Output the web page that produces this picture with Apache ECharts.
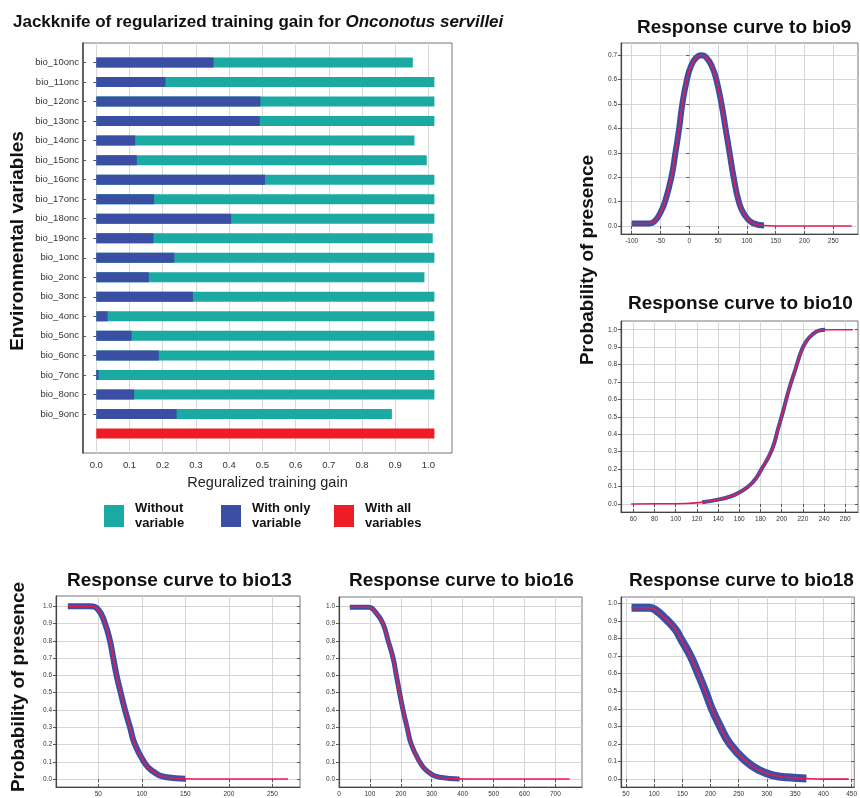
<!DOCTYPE html>
<html>
<head>
<meta charset="utf-8">
<title>Jackknife and response curves - Onconotus servillei</title>
<script src="https://cdn.jsdelivr.net/npm/echarts@6.0.0/dist/echarts.min.js"></script>
<style>
  html, body { margin: 0; padding: 0; background: #fff; }
  #chart { width: 860px; height: 798px; }
</style>
</head>
<body>
<div id="chart"></div>
<script>
// jackknife, variables from top to bottom
var jkVariables = ['bio_10onc', 'bio_11onc', 'bio_12onc', 'bio_13onc', 'bio_14onc', 'bio_15onc', 'bio_16onc',
  'bio_17onc', 'bio_18onc', 'bio_19onc', 'bio_1onc', 'bio_2onc', 'bio_3onc', 'bio_4onc', 'bio_5onc',
  'bio_6onc', 'bio_7onc', 'bio_8onc', 'bio_9onc']
var withoutVariable = [0.953, 1.018, 1.018, 1.018, 0.958, 0.995, 1.018, 1.018, 1.018, 1.013, 1.018,
  0.988, 1.018, 1.018, 1.018, 1.018, 1.018, 1.018, 0.890]
var withOnlyVariable = [0.353, 0.208, 0.494, 0.492, 0.117, 0.122, 0.508, 0.174, 0.406, 0.172, 0.235,
  0.158, 0.291, 0.034, 0.106, 0.188, 0.007, 0.114, 0.242]
var withAllVariables = 1.018
var gainTicks = [0, 0.1, 0.2, 0.3, 0.4, 0.5, 0.6, 0.7, 0.8, 0.9, 1.0]

// response curves: [value, probability of presence]
var bio9Curve = [[-100, 0.01], [-70, 0.01], [-60, 0.02], [-50, 0.055], [-42, 0.1], [-31, 0.2], [-24, 0.3],
  [-17.5, 0.4], [-12, 0.5], [-4, 0.6], [3, 0.655], [12, 0.69], [21, 0.70], [30, 0.69], [40, 0.65],
  [47, 0.6], [56, 0.5], [63, 0.4], [70, 0.3], [77, 0.2], [86, 0.1], [95, 0.05], [110, 0.012],
  [130, 0.002], [150, 0], [282, 0]]
var bio10Curve = [[58, 0], [80, 0.001], [109, 0.003], [125, 0.01], [140, 0.025], [150, 0.04], [159, 0.063],
  [172, 0.12], [181, 0.2], [190.7, 0.31], [197, 0.44], [201.7, 0.54], [206.5, 0.65], [212.8, 0.77],
  [219, 0.885], [224, 0.94], [228.5, 0.97], [235, 0.995], [241, 1.0], [267, 1.0]]
var bio13Curve = [[15, 1.0], [40, 1.0], [50, 0.98], [57.7, 0.9], [63.4, 0.8], [67.2, 0.7], [71, 0.6],
  [75.7, 0.5], [80.7, 0.4], [86.4, 0.3], [92.1, 0.2], [102.5, 0.1], [111.3, 0.05], [128.5, 0.01],
  [150, 0.002], [170, 0], [268, 0]]
var bio16Curve = [[35, 0.995], [95, 0.995], [121, 0.96], [142, 0.9], [159, 0.8], [175, 0.7], [185.5, 0.6],
  [196, 0.5], [207, 0.4], [220, 0.3], [234, 0.2], [261, 0.1], [283, 0.05], [326, 0.01], [390, 0.001],
  [430, 0], [746, 0]]
var bio18Curve = [[60, 0.975], [92, 0.975], [103.5, 0.96], [121, 0.91], [138, 0.85], [147, 0.8], [164.5, 0.7],
  [178, 0.6], [190.7, 0.5], [202.3, 0.4], [217, 0.3], [234.3, 0.2], [263.4, 0.1], [286.6, 0.05],
  [312.8, 0.02], [336, 0.01], [370, 0.003], [400, 0], [445, 0]]

var bio9XTicks = [-100, -50, 0, 50, 100, 150, 200, 250]
var bio10XTicks = [60, 80, 100, 120, 140, 160, 180, 200, 220, 240, 260]
var bio13XTicks = [50, 100, 150, 200, 250]
var bio16XTicks = [0, 100, 200, 300, 400, 500, 600, 700]
var bio18XTicks = [50, 100, 150, 200, 250, 300, 350, 400, 450]
var probTicksLow = [0, 0.1, 0.2, 0.3, 0.4, 0.5, 0.6, 0.7]
var probTicks = [0, 0.1, 0.2, 0.3, 0.4, 0.5, 0.6, 0.7, 0.8, 0.9, 1.0]

var boldFont = "'Liberation Sans', Arial, sans-serif"
var tickFont = "'Liberation Sans Narrow', 'Liberation Sans', Arial, sans-serif"
var blueBand = '#3a4fa6'
var redLine = '#e61c50'

var panels = [
  { title: 'Response curve to bio9', titleLeft: 637, titleTop: 18, curve: bio9Curve, xTicks: bio9XTicks, yTicks: probTicksLow,
    grid: { left: 621, top: 43, width: 237, height: 191 }, x: [-118.5, 293], y: [-0.033, 0.75], band: [-100, 130], bandWidth: 6 },
  { title: 'Response curve to bio10', titleLeft: 628, titleTop: 294, curve: bio10Curve, xTicks: bio10XTicks, yTicks: probTicks,
    grid: { left: 621, top: 321, width: 237, height: 191 }, x: [48.4, 272], y: [-0.046, 1.05], band: [125, 241], bandWidth: 4 },
  { title: 'Response curve to bio13', titleLeft: 67, titleTop: 571, curve: bio13Curve, xTicks: bio13XTicks, yTicks: probTicks,
    grid: { left: 56, top: 596, width: 244, height: 192 }, x: [1.4, 281.8], y: [-0.046, 1.059], band: [15, 150], bandWidth: 6 },
  { title: 'Response curve to bio16', titleLeft: 349, titleTop: 571, curve: bio16Curve, xTicks: bio16XTicks, yTicks: probTicks,
    grid: { left: 339, top: 597, width: 243, height: 191 }, x: [0, 786], y: [-0.046, 1.054], band: [35, 390], bandWidth: 5 },
  { title: 'Response curve to bio18', titleLeft: 629, titleTop: 571, curve: bio18Curve, xTicks: bio18XTicks, yTicks: probTicks,
    grid: { left: 621, top: 597, width: 237, height: 191 }, x: [41.3, 454.7], y: [-0.045, 1.036], band: [60, 370], bandWidth: 8 }
]

// category axis padded with empty slots above and below, red bar gets its own row
var jkCategories = ['top'].concat(jkVariables, ['all', 'bottom'])
var tealData = ['-'].concat(withoutVariable, ['-', '-'])
var blueData = ['-'].concat(withOnlyVariable, ['-', '-'])
var redData = jkCategories.map(function (c) { return c === 'all' ? withAllVariables : '-' })
var isVar = function (idx, val) { return String(val).indexOf('bio') === 0 }

var grid = [{ left: 83, top: 43, width: 369, height: 410, show: true, borderColor: '#777', borderWidth: 1, backgroundColor: '#fff' }]
var xAxis = [
  {
    type: 'value', gridIndex: 0, position: 'bottom', min: -0.04, max: 1.071,
    name: 'Reguralized training gain', nameLocation: 'middle', nameGap: 22,
    nameTextStyle: { fontSize: 14.5, color: '#222', fontFamily: boldFont },
    axisLine: { onZero: false, lineStyle: { color: '#444', width: 1.5 } },
    axisTick: { inside: true, length: 4, customValues: gainTicks, lineStyle: { color: '#555' } },
    axisLabel: { customValues: gainTicks, margin: 7, fontSize: 9.5, color: '#333', fontFamily: tickFont,
      formatter: function (v) { return v.toFixed(1) } },
    splitLine: { show: true, lineStyle: { color: '#d8d8d8' } }
  },
  {
    type: 'value', gridIndex: 0, position: 'top', min: -0.04, max: 1.071,
    axisLine: { show: false }, axisLabel: { show: false }, splitLine: { show: false },
    axisTick: { inside: true, length: 4, customValues: gainTicks, lineStyle: { color: '#555' } }
  }
]
var yAxis = [
  {
    type: 'category', gridIndex: 0, position: 'left', inverse: true, boundaryGap: false, data: jkCategories,
    axisLine: { onZero: false, lineStyle: { color: '#444', width: 1.5 } },
    axisTick: { inside: true, length: 3, interval: isVar, lineStyle: { color: '#555' } },
    axisLabel: { interval: isVar, margin: 4, fontSize: 9.5, color: '#333', fontFamily: boldFont },
    splitLine: { show: false }
  },
  {
    type: 'category', gridIndex: 0, position: 'right', inverse: true, boundaryGap: false, data: jkCategories,
    axisLine: { show: false }, axisLabel: { show: false }, splitLine: { show: false },
    axisTick: { inside: true, length: 3, interval: isVar, lineStyle: { color: '#555' } }
  }
]

var series = [
  { name: 'Without variable', type: 'bar', xAxisIndex: 0, yAxisIndex: 0, data: tealData, barWidth: 10, barGap: '-100%',
    itemStyle: { color: '#1ba9a3' } },
  { name: 'With only variable', type: 'bar', xAxisIndex: 0, yAxisIndex: 0, data: blueData, barWidth: 10, barGap: '-100%',
    itemStyle: { color: '#3a4fa3' } },
  { name: 'With all variables', type: 'bar', xAxisIndex: 0, yAxisIndex: 0, data: redData, barWidth: 10, barGap: '-100%',
    itemStyle: { color: '#ee1c25' } }
]

var title = [{
  text: '{n|Jackknife of regularized training gain for }{i|Onconotus servillei}',
  left: 13, top: 14, padding: 0,
  textStyle: {
    rich: {
      n: { fontSize: 17, fontWeight: 'bold', color: '#111', fontFamily: boldFont },
      i: { fontSize: 17, fontWeight: 'bold', fontStyle: 'italic', color: '#111', fontFamily: boldFont }
    }
  }
}]

panels.forEach(function (p, i) {
  var g = i + 1
  grid.push(Object.assign({ show: true, borderColor: '#777', borderWidth: 1, backgroundColor: '#fff' }, p.grid))
  title.push({ text: p.title, left: p.titleLeft, top: p.titleTop, padding: 0,
    textStyle: { fontSize: 19, fontWeight: 'bold', color: '#111', fontFamily: boldFont } })

  xAxis.push({
    type: 'value', gridIndex: g, position: 'bottom', min: p.x[0], max: p.x[1],
    axisLine: { onZero: false, lineStyle: { color: '#444', width: 1.2 } },
    axisTick: { inside: true, length: 3, customValues: p.xTicks, lineStyle: { color: '#555' } },
    axisLabel: { customValues: p.xTicks, margin: 4, fontSize: 6.5, color: '#333', fontFamily: tickFont },
    splitLine: { show: true, lineStyle: { color: '#d6d6d6' } }
  }, {
    type: 'value', gridIndex: g, position: 'top', min: p.x[0], max: p.x[1],
    axisLine: { show: false }, axisLabel: { show: false }, splitLine: { show: false },
    axisTick: { inside: true, length: 3, customValues: p.xTicks, lineStyle: { color: '#555' } }
  })
  yAxis.push({
    type: 'value', gridIndex: g, position: 'left', min: p.y[0], max: p.y[1],
    axisLine: { onZero: false, lineStyle: { color: '#444', width: 1.2 } },
    axisTick: { length: 3, customValues: p.yTicks, lineStyle: { color: '#555' } },
    axisLabel: { customValues: p.yTicks, margin: 4, fontSize: 6.5, color: '#333', fontFamily: tickFont,
      formatter: function (v) { return v.toFixed(1) } },
    splitLine: { show: true, lineStyle: { color: '#d6d6d6' } }
  }, {
    type: 'value', gridIndex: g, position: 'right', min: p.y[0], max: p.y[1],
    axisLine: { show: false }, axisLabel: { show: false }, splitLine: { show: false },
    axisTick: { inside: true, length: 3, customValues: p.yTicks, lineStyle: { color: '#555' } }
  })

  // blue spread band drawn as a thick line, mean response in red on top
  series.push({
    type: 'line', xAxisIndex: 2 * g, yAxisIndex: 2 * g, silent: true, showSymbol: false,
    smooth: 0.5, z: 2,
    data: p.curve.filter(function (d) { return d[0] >= p.band[0] && d[0] <= p.band[1] }),
    lineStyle: { color: blueBand, width: p.bandWidth, cap: 'butt', join: 'round' }
  }, {
    type: 'line', xAxisIndex: 2 * g, yAxisIndex: 2 * g, silent: true, showSymbol: false,
    smooth: 0.5, z: 3,
    data: p.curve,
    lineStyle: { color: redLine, width: 1.6 }
  })
})

var legendBase = {
  orient: 'horizontal', top: 501, padding: 0, icon: 'rect', itemWidth: 20, itemHeight: 22, selectedMode: false,
  formatter: function (name) {
    var i = name.lastIndexOf(' ')
    return name.slice(0, i) + '\n' + name.slice(i + 1)
  },
  textStyle: { fontSize: 13, fontWeight: 'bold', lineHeight: 15, color: '#111', fontFamily: boldFont, padding: [0, 0, 0, 6] }
}
var legend = [
  Object.assign({ left: 104, data: ['Without variable'] }, legendBase),
  Object.assign({ left: 221, data: ['With only variable'] }, legendBase),
  Object.assign({ left: 334, data: ['With all variables'] }, legendBase)
]

var chart = echarts.init(document.getElementById('chart'))
chart.setOption({
  animation: false,
  backgroundColor: '#fff',
  title: title,
  legend: legend,
  grid: grid,
  xAxis: xAxis,
  yAxis: yAxis,
  series: series,
  graphic: [
    { type: 'text', x: 18, y: 241, rotation: Math.PI / 2,
      style: { text: 'Environmental variables', font: 'bold 19px ' + boldFont, fill: '#111', textAlign: 'center', textVerticalAlign: 'middle' } },
    { type: 'text', x: 588, y: 260, rotation: Math.PI / 2,
      style: { text: 'Probability of presence', font: 'bold 19px ' + boldFont, fill: '#111', textAlign: 'center', textVerticalAlign: 'middle' } },
    { type: 'text', x: 19, y: 687, rotation: Math.PI / 2,
      style: { text: 'Probability of presence', font: 'bold 19px ' + boldFont, fill: '#111', textAlign: 'center', textVerticalAlign: 'middle' } }
  ]
})
</script>
</body>
</html>
